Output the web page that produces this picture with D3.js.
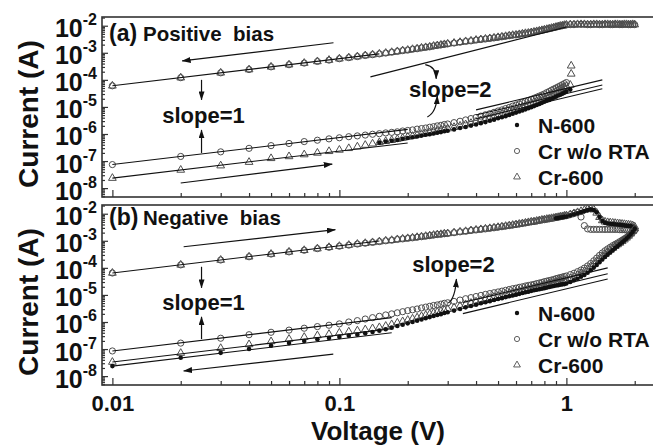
<!DOCTYPE html>
<html>
<head>
<meta charset="utf-8">
<script src="https://cdn.jsdelivr.net/npm/d3@7"></script>
<style>
body { margin: 0; background: #fff; }
svg { display: block; font-family: 'Liberation Sans', Arial, Helvetica, sans-serif; font-weight: bold; }
</style>
</head>
<body>
<svg></svg>
<script>
// sweep voltages (V), shared by every curve
const volts = [
  0.01,0.02,0.03,0.04,0.05,0.06,0.07,0.08,0.09,0.10,
  0.11,0.12,0.13,0.14,0.15,0.16,0.17,0.18,0.19,0.20,0.21,0.22,0.23,0.24,0.25,0.26,0.27,0.28,0.29,0.30,
  0.32,0.34,0.36,0.38,0.40,0.42,0.44,0.46,0.48,0.50,0.52,0.54,0.56,0.58,0.60,0.62,0.64,0.66,0.68,0.70,
  0.72,0.74,0.76,0.78,0.80,0.82,0.84,0.86,0.88,0.90,0.92,0.94,0.96,0.98,1.00,
  1.04,1.08,1.12,1.16,1.20,1.24,1.28,1.32,1.36,1.40,1.44,1.48,1.52,1.56,1.60,1.64,1.68,1.72,1.76,1.80,
  1.84,1.88,1.92,1.96,2.00
]
const gap = n => Array(n).fill(null)   // no point measured there

// everything below is log10(current in A)
// (a) positive bias, low resistance branch (both Cr samples sit on top of each other)
const aLrsCr = [
  -4.22,-3.92,-3.74,-3.62,-3.52,-3.44,-3.38,-3.32,-3.27,-3.22,
  -3.18,-3.14,-3.10,-3.07,-3.04,-3.01,-2.98,-2.95,-2.92,-2.90,-2.87,-2.85,-2.82,-2.80,-2.78,-2.75,-2.73,-2.71,-2.69,-2.67,
  -2.64,-2.61,-2.58,-2.56,-2.53,-2.51,-2.49,-2.47,-2.45,-2.43,-2.41,-2.39,-2.37,-2.35,-2.34,-2.32,-2.30,-2.28,-2.27,-2.25,
  -2.23,-2.21,-2.19,-2.17,-2.15,-2.13,-2.11,-2.09,-2.07,-2.05,-2.03,-2.01,-2.00,-1.98,-1.97,
  -1.96,-1.96,-1.95,-1.95,-1.95,-1.96,-1.96,-1.95,-1.95,-1.96,-1.96,-1.95,-1.95,-1.96,-1.96,-1.95,-1.95,-1.96,-1.96,-1.95,
  -1.95,-1.96,-1.96,-1.95,-1.96
]
// (a) high resistance branch
const aHrsCrNoRta = [
  -7.13,-6.83,-6.66,-6.53,-6.43,-6.35,-6.28,-6.23,-6.18,-6.14,
  -6.10,-6.07,-6.04,-6.01,-5.99,-5.96,-5.94,-5.92,-5.89,-5.87,-5.85,-5.82,-5.80,-5.78,-5.75,-5.73,-5.70,-5.68,-5.65,-5.63,
  -5.58,-5.53,-5.48,-5.43,-5.39,-5.34,-5.29,-5.25,-5.20,-5.15,-5.11,-5.06,-5.02,-4.97,-4.93,-4.89,-4.84,-4.80,-4.76,-4.72,
  -4.68,-4.64,-4.60,-4.56,-4.52,-4.47,-4.43,-4.38,-4.34,-4.30,-4.26,-4.22,-4.18,-4.14,-4.10,
  ...gap(25)
]
const aHrsCr600 = [
  -7.63,-7.33,-7.17,-7.04,-6.90,-6.83,-6.76,-6.70,-6.64,-6.59,
  -6.53,-6.47,-6.41,-6.36,-6.31,-6.27,-6.23,-6.19,-6.15,-6.11,-6.08,-6.04,-6.01,-5.98,-5.95,-5.92,-5.89,-5.86,-5.83,-5.80,
  -5.75,-5.70,-5.65,-5.60,-5.55,-5.50,-5.45,-5.40,-5.36,-5.31,-5.27,-5.22,-5.17,-5.12,-5.08,-5.03,-4.99,-4.94,-4.90,-4.86,
  -4.82,-4.78,-4.74,-4.70,-4.66,-4.61,-4.57,-4.52,-4.48,-4.44,-4.40,-4.36,-4.32,-4.28,-4.24,
  -4.19, ...gap(24)
]
const aHrsN600 = [
  ...gap(10),
  ...gap(4), -6.32,-6.28,-6.25,-6.22,-6.18,-6.15,-6.12,-6.09,-6.06,-6.03,-6.01,-5.98,-5.95,-5.93,-5.90,-5.88,
  -5.83,-5.78,-5.74,-5.69,-5.65,-5.60,-5.56,-5.51,-5.47,-5.42,-5.38,-5.34,-5.30,-5.25,-5.21,-5.17,-5.13,-5.09,-5.05,-5.01,
  -4.97,-4.93,-4.89,-4.85,-4.81,-4.77,-4.74,-4.70,-4.66,-4.62,-4.58,-4.55,-4.51,-4.47,-4.43,
  -4.36, ...gap(24)
]
// Cr-600 jumping up at the set voltage
const aSetVolts = [1.05, 1.05]
const aSetCr600 = [-3.78, -3.48]

// (b) negative bias (|V|), low resistance branch going out
const bLrsCrNoRta = [
  -4.19,-3.89,-3.71,-3.59,-3.49,-3.41,-3.35,-3.29,-3.24,-3.20,
  -3.16,-3.12,-3.09,-3.06,-3.03,-3.00,-2.98,-2.95,-2.93,-2.91,-2.89,-2.87,-2.85,-2.83,-2.81,-2.79,-2.77,-2.76,-2.74,-2.73,
  -2.70,-2.67,-2.65,-2.62,-2.60,-2.58,-2.56,-2.54,-2.52,-2.50,-2.48,-2.46,-2.44,-2.42,-2.40,-2.38,-2.36,-2.34,-2.32,-2.30,
  -2.29,-2.27,-2.25,-2.23,-2.22,-2.20,-2.19,-2.17,-2.16,-2.14,-2.13,-2.11,-2.10,-2.08,-2.07,
  -2.03,-1.99,-1.95,-2.12,-2.44,-2.56,-2.58,-2.58,-2.58,-2.58,-2.58,-2.58,-2.58,-2.58,-2.58,-2.58,-2.58,-2.59,-2.59,-2.59,
  -2.60,-2.60,-2.60,-2.61,-2.61
]
const bLrsCr600 = [
  -4.19,-3.89,-3.71,-3.59,-3.49,-3.41,-3.35,-3.29,-3.24,-3.20,
  -3.16,-3.12,-3.09,-3.06,-3.03,-3.00,-2.98,-2.95,-2.93,-2.91,-2.89,-2.87,-2.85,-2.83,-2.81,-2.79,-2.77,-2.76,-2.74,-2.73,
  -2.70,-2.67,-2.65,-2.62,-2.60,-2.58,-2.56,-2.54,-2.52,-2.50,-2.48,-2.46,-2.44,-2.42,-2.40,-2.38,-2.36,-2.34,-2.32,-2.30,
  -2.29,-2.27,-2.25,-2.23,-2.22,-2.20,-2.19,-2.17,-2.16,-2.14,-2.13,-2.11,-2.10,-2.08,-2.07,
  -2.03,-1.99,-1.95,-1.91,-1.87,-1.84,-1.82,-1.85,-1.97,-2.13,-2.25,-2.30,-2.32,-2.33,-2.34,-2.35,-2.36,-2.37,-2.38,-2.39,
  -2.40,-2.41,-2.42,-2.44,-2.48
]
const bLrsN600 = [
  ...gap(10),
  ...gap(20),
  ...gap(29), -2.17,-2.16,-2.14,-2.13,-2.11,-2.10,
  -2.06,-2.02,-1.98,-1.94,-1.90,-1.86,-1.84,-1.86,-1.95,-2.12,-2.27,-2.33,-2.36,-2.37,-2.38,-2.39,-2.40,-2.41,-2.42,-2.43,
  -2.44,-2.45,-2.46,-2.48,-2.52
]
// (b) high resistance branch coming back
const bHrsCrNoRta = [
  -7.07,-6.78,-6.60,-6.47,-6.38,-6.30,-6.23,-6.17,-6.12,-6.07,
  -6.00,-5.95,-5.89,-5.84,-5.79,-5.74,-5.70,-5.66,-5.62,-5.58,-5.55,-5.52,-5.48,-5.45,-5.42,-5.39,-5.37,-5.34,-5.31,-5.29,
  -5.24,-5.19,-5.14,-5.10,-5.06,-5.02,-4.98,-4.95,-4.92,-4.89,-4.86,-4.83,-4.80,-4.77,-4.75,-4.72,-4.70,-4.67,-4.65,-4.63,
  -4.61,-4.58,-4.56,-4.54,-4.51,-4.49,-4.47,-4.45,-4.43,-4.40,-4.38,-4.36,-4.34,-4.32,-4.30,
  -4.25,-4.20,-4.14,-4.08,-4.01,-3.93,-3.84,-3.74,-3.64,-3.54,-3.45,-3.37,-3.30,-3.24,-3.18,-3.13,-3.08,-3.03,-2.98,-2.93,
  -2.88,-2.82,-2.75,-2.68,-2.60
]
const bHrsCr600 = [
  -7.48,-7.15,-6.97,-6.83,-6.72,-6.63,-6.56,-6.50,-6.45,-6.40,
  -6.36,-6.32,-6.28,-6.24,-6.20,-6.15,-6.09,-6.03,-5.98,-5.93,-5.88,-5.84,-5.79,-5.75,-5.71,-5.67,-5.63,-5.60,-5.56,-5.53,
  -5.47,-5.41,-5.35,-5.30,-5.25,-5.21,-5.16,-5.12,-5.08,-5.04,-5.01,-4.97,-4.94,-4.91,-4.88,-4.85,-4.82,-4.79,-4.77,-4.75,
  -4.72,-4.70,-4.68,-4.66,-4.64,-4.62,-4.60,-4.58,-4.56,-4.54,-4.52,-4.50,-4.49,-4.47,-4.45,
  -4.39,-4.33,-4.27,-4.20,-4.13,-4.05,-3.96,-3.86,-3.76,-3.66,-3.57,-3.49,-3.41,-3.34,-3.27,-3.20,-3.14,-3.08,-3.02,-2.96,
  -2.89,-2.82,-2.74,-2.65,-2.55
]
const bHrsN600 = [
  -7.63,-7.32,-7.14,-7.00,-6.88,-6.78,-6.70,-6.64,-6.59,-6.55,
  -6.51,-6.47,-6.42,-6.37,-6.32,-6.27,-6.21,-6.15,-6.10,-6.05,-6.00,-5.95,-5.91,-5.86,-5.82,-5.78,-5.74,-5.71,-5.67,-5.64,
  -5.58,-5.52,-5.46,-5.41,-5.36,-5.31,-5.27,-5.23,-5.19,-5.15,-5.12,-5.08,-5.05,-5.02,-4.99,-4.96,-4.93,-4.90,-4.88,-4.85,
  -4.83,-4.81,-4.79,-4.77,-4.75,-4.73,-4.71,-4.69,-4.67,-4.65,-4.64,-4.62,-4.61,-4.60,-4.58,
  -4.52,-4.46,-4.40,-4.33,-4.26,-4.18,-4.09,-3.99,-3.89,-3.79,-3.69,-3.60,-3.51,-3.43,-3.35,-3.27,-3.20,-3.13,-3.06,-2.99,
  -2.92,-2.84,-2.76,-2.67,-2.56
]

// straight fit lines: [V, log10 I] end points
const aFits = [
  [[0.01, -4.22], [0.15, -3.04]],
  [[0.137, -3.89], [1.0, -2.05]],
  [[0.01, -7.13], [0.2, -5.83]],
  [[0.01, -7.63], [0.2, -6.33]],
  [[0.4, -5.11], [1.44, -4.00]],
  [[0.4, -5.30], [1.44, -4.19]],
  [[0.4, -5.44], [1.44, -4.33]]
]
const bFits = [
  [[0.01, -4.19], [0.15, -3.01]],
  [[0.01, -7.07], [0.17, -5.84]],
  [[0.01, -7.48], [0.17, -6.25]],
  [[0.01, -7.63], [0.17, -6.40]],
  [[0.35, -5.28], [1.52, -4.00]],
  [[0.35, -5.50], [1.52, -4.22]],
  [[0.35, -5.69], [1.52, -4.41]]
]

// annotation arrows, same units
const aArrows = [
  [[0.0942, -2.63], [0.0203, -3.30]],
  [[0.020, -7.81], [0.093, -7.11]],
  [[0.0247, -4.00], [0.0247, -4.74]],
  [[0.0247, -6.70], [0.0247, -5.85]]
]
const bArrows = [
  [[0.0206, -3.22], [0.096, -2.59]],
  [[0.094, -7.19], [0.0206, -7.81]],
  [[0.0247, -3.96], [0.0247, -4.74]],
  [[0.0247, -6.63], [0.0247, -5.81]]
]
// curved ones: start, control, tip
const aCurves = [
  [[0.239, -3.44], [0.267, -3.52], [0.267, -3.96]],
  [[0.244, -5.37], [0.267, -5.22], [0.27, -4.59]]
]
const bCurves = [
  [[0.302, -5.30], [0.324, -5.11], [0.3277, -4.41]]
]
const aNotes = [[0.0252, -5.59, 'slope=1'], [0.308, -4.63, 'slope=2']]
const bNotes = [[0.0252, -5.56, 'slope=1'], [0.318, -4.15, 'slope=2']]

const xMajorTicks = [0.01, 0.1, 1]
const xTickLabels = ['0.01', '0.1', '1']
const yMajorTicks = [1e-8, 1e-7, 1e-6, 1e-5, 1e-4, 1e-3, 1e-2]
const yTickPowers = ['-8', '-7', '-6', '-5', '-4', '-3', '-2']
const legendNames = ['N-600', 'Cr w/o RTA', 'Cr-600']
const legendShapes = ['dot', 'circle', 'triangle']

const width = 653
const height = 446
const left = 102
const right = 660          // the frame runs off the right edge in the figure
const panelHeight = 180
const panelTops = {a: 17, b: 205}
const markGrey = '#4d4d4d'

const svg = d3.select('svg')
let xScale
let yScales = {}

let drawCanvas = () => {
    svg.attr('width', width).attr('height', height)
    svg.append('defs').append('marker')
        .attr('id', 'head')
        .attr('viewBox', '0 0 9 6')
        .attr('refX', 8.5)
        .attr('refY', 3)
        .attr('markerWidth', 9)
        .attr('markerHeight', 6)
        .attr('markerUnits', 'userSpaceOnUse')
        .attr('orient', 'auto')
        .append('path')
        .attr('d', 'M0,0L9,3L0,6z')
        .attr('fill', '#111')
}

let generateScales = () => {
    // 227 px per decade of voltage
    xScale = d3.scaleLog()
                .domain([0.009, 2.5])
                .range([left, left + 227 * Math.log10(2.5 / 0.009)])
    Object.keys(panelTops).forEach((p) => {
        yScales[p] = d3.scaleLog()
                        .domain([4.7e-9, 2.1e-2])
                        .range([panelTops[p] + panelHeight, panelTops[p]])
    })
}

let px = (p, d) => [xScale(d[0]), yScales[p](Math.pow(10, d[1]))]

let drawAxes = (p) => {
    let top = panelTops[p]
    let bottom = top + panelHeight
    let y = yScales[p]

    let xMinor = []
    xMajorTicks.forEach((m) => {
        [2, 3, 4, 5, 6, 7, 8, 9].forEach((k) => {
            if (k * m < 2.5) xMinor.push(k * m)
        })
    })
    let yMinor = []
    ;[1e-9].concat(yMajorTicks).forEach((m) => {
        [2, 3, 4, 5, 6, 7, 8, 9].forEach((k) => {
            if (k * m > 4.7e-9 && k * m < 2.1e-2) yMinor.push(k * m)
        })
    })

    let g = svg.append('g').attr('color', '#333')

    g.append('g')
        .attr('transform', 'translate(0,' + bottom + ')')
        .call(d3.axisBottom(xScale).tickValues(xMinor).tickSize(-4).tickFormat(''))
    let xg = g.append('g')
        .attr('transform', 'translate(0,' + bottom + ')')
        .call(d3.axisBottom(xScale).tickValues(xMajorTicks).tickSize(-7)
                .tickFormat((d, i) => p === 'b' ? xTickLabels[i] : ''))
    xg.selectAll('.tick text')
        .attr('y', 26)
        .attr('dy', null)
        .attr('fill', '#111')
        .style('font-size', '22px')

    g.append('g')
        .attr('transform', 'translate(' + left + ',0)')
        .call(d3.axisLeft(y).tickValues(yMinor).tickSize(-3).tickFormat(''))
    let yg = g.append('g')
        .attr('transform', 'translate(' + left + ',0)')
        .call(d3.axisLeft(y).tickValues(yMajorTicks).tickSize(-6).tickFormat(''))
    yg.selectAll('.tick text').each(function (d, i) {
        let t = d3.select(this)
                    .attr('x', -5)
                    .attr('y', 11)
                    .attr('dy', null)
                    .attr('text-anchor', 'end')
                    .attr('fill', '#111')
        t.append('tspan').style('font-size', '25px').text('10')
        t.append('tspan').style('font-size', '16px').attr('dy', -12).text(yTickPowers[i])
    })

    g.selectAll('.domain').remove()
    g.selectAll('g').attr('font-family', null).attr('font-size', null)
    g.selectAll('.tick line').attr('stroke-width', 1.2)

    svg.append('rect')
        .attr('x', left)
        .attr('y', top)
        .attr('width', right - left)
        .attr('height', panelHeight)
        .attr('fill', 'none')
        .attr('stroke', '#333')
        .attr('stroke-width', 1.6)

    svg.append('text')
        .attr('transform', 'translate(38,' + (top + 97) + ') rotate(-90)')
        .attr('text-anchor', 'middle')
        .style('font-size', '28px')
        .attr('fill', '#111')
        .text('Current (A)')
}

let drawSeries = (p, vs, vals, shape) => {
    let pts = vs.map((v, i) => [v, vals[i]]).filter((d) => d[1] !== null && d[1] !== undefined)
    let g = svg.append('g')
    if (shape === 'dot') {
        g.selectAll('circle').data(pts).enter().append('circle')
            .attr('cx', (d) => px(p, d)[0])
            .attr('cy', (d) => px(p, d)[1])
            .attr('r', 2.3)
            .attr('fill', '#111')
    } else if (shape === 'circle') {
        g.selectAll('circle').data(pts).enter().append('circle')
            .attr('cx', (d) => px(p, d)[0])
            .attr('cy', (d) => px(p, d)[1])
            .attr('r', 3.1)
            .attr('fill', 'none')
            .attr('stroke', markGrey)
            .attr('stroke-width', 1)
    } else {
        g.selectAll('path').data(pts).enter().append('path')
            .attr('d', d3.symbol(d3.symbolTriangle, 26))
            .attr('transform', (d) => 'translate(' + px(p, d) + ')')
            .attr('fill', 'none')
            .attr('stroke', markGrey)
            .attr('stroke-width', 1)
    }
}

let drawFits = (p, fits) => {
    svg.append('g').selectAll('line').data(fits).enter().append('line')
        .attr('x1', (d) => px(p, d[0])[0])
        .attr('y1', (d) => px(p, d[0])[1])
        .attr('x2', (d) => px(p, d[1])[0])
        .attr('y2', (d) => px(p, d[1])[1])
        .attr('stroke', '#111')
        .attr('stroke-width', 1.1)
}

let drawNotes = (p, arrows, curves, notes) => {
    svg.append('g').selectAll('line').data(arrows).enter().append('line')
        .attr('x1', (d) => px(p, d[0])[0])
        .attr('y1', (d) => px(p, d[0])[1])
        .attr('x2', (d) => px(p, d[1])[0])
        .attr('y2', (d) => px(p, d[1])[1])
        .attr('stroke', '#111')
        .attr('stroke-width', 1.2)
        .attr('marker-end', 'url(#head)')

    svg.append('g').selectAll('path').data(curves).enter().append('path')
        .attr('d', (d) => {
            let a = px(p, d[0]), c = px(p, d[1]), b = px(p, d[2])
            return 'M' + a + 'Q' + c + ' ' + b
        })
        .attr('fill', 'none')
        .attr('stroke', '#111')
        .attr('stroke-width', 1.2)
        .attr('marker-end', 'url(#head)')

    svg.append('g').selectAll('text').data(notes).enter().append('text')
        .attr('x', (d) => px(p, d)[0])
        .attr('y', (d) => px(p, d)[1])
        .attr('text-anchor', 'middle')
        .style('font-size', '22px')
        .attr('fill', '#111')
        .text((d) => d[2])
}

let drawLegend = (p) => {
    let top = panelTops[p]
    legendNames.forEach((name, i) => {
        let cy = top + 108 + i * 26
        if (legendShapes[i] === 'dot') {
            svg.append('circle').attr('cx', 517).attr('cy', cy).attr('r', 2.2).attr('fill', '#111')
        } else if (legendShapes[i] === 'circle') {
            svg.append('circle').attr('cx', 517).attr('cy', cy).attr('r', 2.6)
                .attr('fill', 'none').attr('stroke', markGrey).attr('stroke-width', 0.9)
        } else {
            svg.append('path').attr('d', d3.symbol(d3.symbolTriangle, 20))
                .attr('transform', 'translate(517,' + cy + ')')
                .attr('fill', 'none').attr('stroke', markGrey).attr('stroke-width', 0.9)
        }
        svg.append('text')
            .attr('x', 538)
            .attr('y', cy + 7.5)
            .style('font-size', '21px')
            .attr('fill', '#111')
            .text(name)
    })
}

let drawTitles = () => {
    svg.append('text').attr('x', 109).attr('y', 40.5).style('font-size', '23px').attr('fill', '#111').text('(a)')
    svg.append('text').attr('x', 143).attr('y', 40.5).style('font-size', '20.5px').style('white-space', 'pre')
        .attr('fill', '#111').text('Positive  bias')
    svg.append('text').attr('x', 109).attr('y', 225).style('font-size', '23px').attr('fill', '#111').text('(b)')
    svg.append('text').attr('x', 143).attr('y', 225).style('font-size', '20.5px').style('white-space', 'pre')
        .attr('fill', '#111').text('Negative  bias')
    // sits right on the bottom edge, like the figure, but with the descender kept in
    svg.append('text')
        .attr('x', 378)
        .attr('y', 440)
        .attr('text-anchor', 'middle')
        .style('font-size', '26px')
        .attr('fill', '#111')
        .text('Voltage (V)')
}

drawCanvas()
generateScales()
drawAxes('a')
drawAxes('b')

// (a) positive bias
drawSeries('a', volts, aLrsCr, 'circle')
drawSeries('a', volts, aLrsCr, 'triangle')
drawSeries('a', volts, aHrsCrNoRta, 'circle')
drawSeries('a', volts, aHrsCr600, 'triangle')
drawSeries('a', aSetVolts, aSetCr600, 'triangle')
drawSeries('a', volts, aHrsN600, 'dot')
drawFits('a', aFits)
drawNotes('a', aArrows, aCurves, aNotes)
drawLegend('a')

// (b) negative bias
drawSeries('b', volts, bLrsCrNoRta, 'circle')
drawSeries('b', volts, bLrsCr600, 'triangle')
drawSeries('b', volts, bLrsN600, 'dot')
drawSeries('b', volts, bHrsCrNoRta, 'circle')
drawSeries('b', volts, bHrsCr600, 'triangle')
drawSeries('b', volts, bHrsN600, 'dot')
drawFits('b', bFits)
drawNotes('b', bArrows, bCurves, bNotes)
drawLegend('b')

drawTitles()
</script>
</body>
</html>
